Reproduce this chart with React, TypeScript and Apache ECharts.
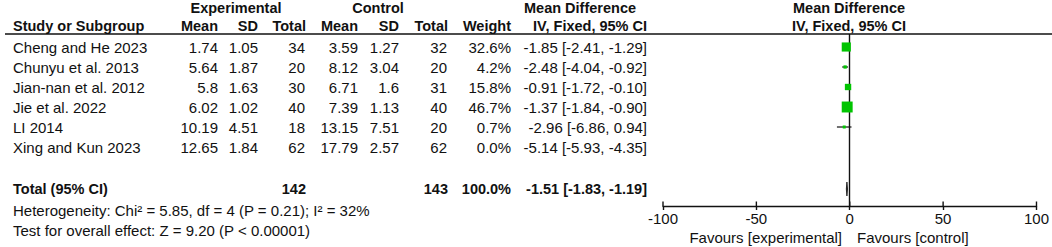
import React, { useEffect, useRef } from "react";
import * as echarts from "echarts";

// ---- data ----
const studies = [
  "Cheng and He 2023",
  "Chunyu et al. 2013",
  "Jian-nan et al. 2012",
  "Jie et al. 2022",
  "LI 2014",
  "Xing and Kun 2023",
];
const expMean = [1.74, 5.64, 5.8, 6.02, 10.19, 12.65];
const expSD = [1.05, 1.87, 1.63, 1.02, 4.51, 1.84];
const expN = [34, 20, 30, 40, 18, 62];
const ctlMean = [3.59, 8.12, 6.71, 7.39, 13.15, 17.79];
const ctlSD = [1.27, 3.04, 1.6, 1.13, 7.51, 2.57];
const ctlN = [32, 20, 31, 40, 20, 62];
const weights = [32.6, 4.2, 15.8, 46.7, 0.7, 0.0];
const md = [-1.85, -2.48, -0.91, -1.37, -2.96, -5.14];
const ciLow = [-2.41, -4.04, -1.72, -1.84, -6.86, -5.93];
const ciHigh = [-1.29, -0.92, -0.1, -0.9, 0.94, -4.35];

const totalExpN = 142;
const totalCtlN = 143;
const totalWeight = 100.0;
const totalMD = -1.51;
const totalLow = -1.83;
const totalHigh = -1.19;

const heterogeneityText = "Heterogeneity: Chi\u00b2 = 5.85, df = 4 (P = 0.21); I\u00b2 = 32%";
const overallText = "Test for overall effect: Z = 9.20 (P < 0.00001)";
const tickValues = [-100, -50, 0, 50, 100];
const favoursLeft = "Favours [experimental]";
const favoursRight = "Favours [control]";

// ---- layout ----
const W = 1052;
const H = 247;
const FONT = "'Liberation Sans', Arial, Helvetica, sans-serif";
const TEXT = "#111";
const GREEN = "#00c400";

const fmtCI = (m: number, l: number, h: number) =>
  `${m.toFixed(2)} [${l.toFixed(2)}, ${h.toFixed(2)}]`;

function txt(text: string, x: number, y: number, align = "left", bold = false) {
  return {
    type: "text",
    x,
    y,
    silent: true,
    style: {
      text,
      fill: TEXT,
      fontSize: bold ? 14.5 : 15,
      fontWeight: bold ? "bold" : "normal",
      fontFamily: FONT,
      align,
      verticalAlign: "middle",
    },
  };
}

export default function App() {
  const ref = useRef<HTMLDivElement>(null);

  useEffect(() => {
    document.body.style.margin = "0";
    const el = ref.current!;
    const chart = echarts.init(el, null, { renderer: "svg", width: W, height: H });

    const totalRow = studies.length + 1.1;
    const plotted = studies
      .map((_, i) => i)
      .filter((i) => weights[i] > 0);

    const ciData = plotted.map((i) => [ciLow[i], ciHigh[i], i]);
    const sqData = plotted.map((i) => [md[i], i, Math.max(3, 1.6 * Math.sqrt(weights[i]))]);
    const xMin = tickValues[0];
    const xMax = tickValues[tickValues.length - 1];
    const xInterval = tickValues[1] - tickValues[0];

    chart.setOption({
      animation: false,
      backgroundColor: "#ffffff",
      grid: { left: 663, right: 15, top: 34, bottom: 41, containLabel: false },
      xAxis: {
        type: "value",
        min: xMin,
        max: xMax,
        interval: xInterval,
        position: "bottom",
        axisLine: { show: true, onZero: false, lineStyle: { color: TEXT, width: 1.4 } },
        axisTick: { show: true, length: 4, lineStyle: { color: TEXT, width: 1.4 } },
        axisLabel: { show: true, fontSize: 15, color: TEXT, fontFamily: FONT, margin: 5 },
        splitLine: { show: false },
      },
      yAxis: { type: "value", min: -0.65, max: 7.95, inverse: true, show: false },
      series: [
        {
          // inward half of the axis ticks
          type: "custom",
          data: tickValues.map((v) => [v]),
          z: 3,
          renderItem: (params: any, api: any) => {
            const cs = params.coordSys;
            const x = api.coord([api.value(0), 0])[0];
            const yb = cs.y + cs.height;
            return {
              type: "line",
              shape: { x1: x, y1: yb - 4.5, x2: x, y2: yb },
              style: { stroke: TEXT, lineWidth: 1.4 },
            };
          },
        },
        {
          type: "custom",
          data: ciData,
          z: 3,
          renderItem: (params: any, api: any) => {
            const a = api.coord([api.value(0), api.value(2)]);
            const b = api.coord([api.value(1), api.value(2)]);
            return {
              type: "line",
              shape: { x1: a[0], y1: a[1], x2: b[0], y2: b[1] },
              style: { stroke: TEXT, lineWidth: 1.2 },
            };
          },
        },
        {
          type: "scatter",
          data: sqData,
          symbol: "rect",
          symbolSize: (v: number[]) => v[2],
          itemStyle: { color: GREEN, opacity: 1 },
          z: 5,
          markLine: {
            silent: true,
            symbol: ["none", "none"],
            label: { show: false },
            lineStyle: { color: TEXT, width: 1.4, type: "solid" },
            data: [{ xAxis: 0 }],
            z: 2,
          },
        },
        {
          type: "custom",
          data: [[totalLow, totalMD, totalHigh, totalRow]],
          z: 6,
          renderItem: (params: any, api: any) => {
            const r = api.value(3);
            const l = api.coord([api.value(0), r]);
            const c = api.coord([api.value(1), r]);
            const h = api.coord([api.value(2), r]);
            return {
              type: "polygon",
              shape: {
                points: [
                  [l[0], l[1]],
                  [c[0], c[1] - 7],
                  [h[0], h[1]],
                  [c[0], c[1] + 7],
                ],
              },
              style: { fill: TEXT, stroke: TEXT, lineWidth: 0.8 },
            };
          },
        },
      ],
    });

    const rowY = (r: number) => chart.convertToPixel({ yAxisIndex: 0 }, r) as number;

    const g: any[] = [];
    const h1 = 8;
    const h2 = 26;
    // header
    g.push(txt("Experimental", 236, h1, "center", true));
    g.push(txt("Control", 378, h1, "center", true));
    g.push(txt("Mean Difference", 580, h1, "center", true));
    g.push(txt("Mean Difference", 849, h1, "center", true));
    g.push(txt("Study or Subgroup", 13, h2, "left", true));
    g.push(txt("Mean", 218, h2, "right", true));
    g.push(txt("SD", 258, h2, "right", true));
    g.push(txt("Total", 306, h2, "right", true));
    g.push(txt("Mean", 358, h2, "right", true));
    g.push(txt("SD", 399, h2, "right", true));
    g.push(txt("Total", 448, h2, "right", true));
    g.push(txt("Weight", 511, h2, "right", true));
    g.push(txt("IV, Fixed, 95% CI", 647, h2, "right", true));
    g.push(txt("IV, Fixed, 95% CI", 849, h2, "center", true));
    g.push({
      type: "line",
      silent: true,
      shape: { x1: 5, y1: 34, x2: W, y2: 34 },
      style: { stroke: TEXT, lineWidth: 1.6 },
    });

    studies.forEach((s, i) => {
      const y = rowY(i);
      g.push(txt(s, 13, y, "left"));
      g.push(txt(String(expMean[i]), 218, y, "right"));
      g.push(txt(String(expSD[i]), 258, y, "right"));
      g.push(txt(String(expN[i]), 305, y, "right"));
      g.push(txt(String(ctlMean[i]), 358, y, "right"));
      g.push(txt(String(ctlSD[i]), 399, y, "right"));
      g.push(txt(String(ctlN[i]), 447, y, "right"));
      g.push(txt(weights[i].toFixed(1) + "%", 511, y, "right"));
      g.push(txt(fmtCI(md[i], ciLow[i], ciHigh[i]), 647, y, "right"));
    });

    const ty = rowY(totalRow);
    g.push(txt("Total (95% CI)", 13, ty, "left", true));
    g.push(txt(String(totalExpN), 306, ty, "right", true));
    g.push(txt(String(totalCtlN), 448, ty, "right", true));
    g.push(txt(totalWeight.toFixed(1) + "%", 511, ty, "right", true));
    g.push(txt(fmtCI(totalMD, totalLow, totalHigh), 647, ty, "right", true));

    g.push(txt(heterogeneityText, 13, rowY(totalRow + 1.05), "left"));
    g.push(txt(overallText, 13, rowY(totalRow + 2.05), "left"));

    g.push(txt(favoursLeft, 842, 237, "right"));
    g.push(txt(favoursRight, 857, 237, "left"));

    chart.setOption({ graphic: g });

    return () => chart.dispose();
  }, []);

  return <div ref={ref} style={{ width: W, height: H }} />;
}
